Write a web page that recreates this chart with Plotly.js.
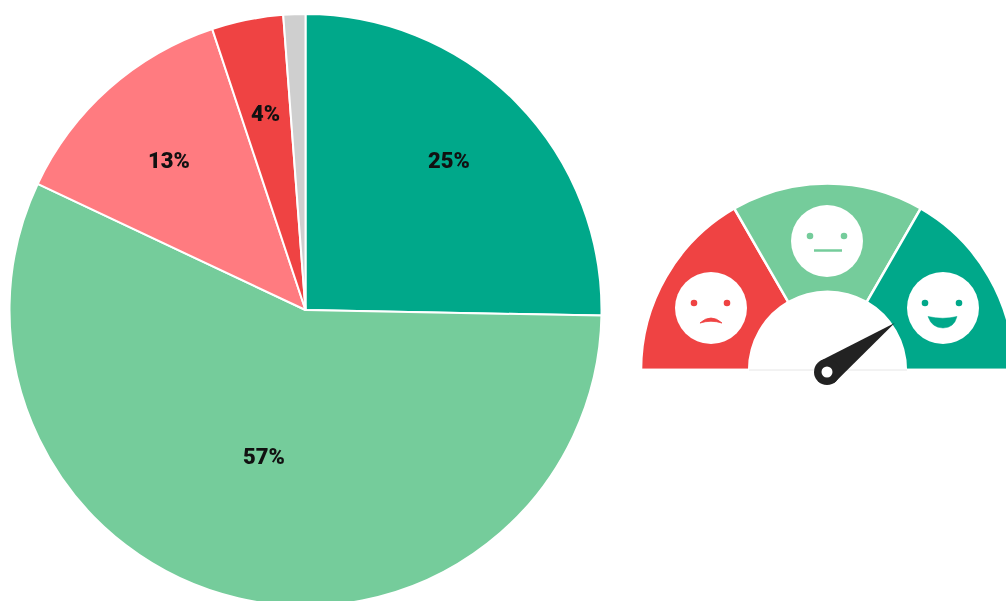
<!DOCTYPE html>
<html><head><meta charset="utf-8">
<script src="https://cdn.plot.ly/plotly-3.0.1.min.js"></script>
<style>html,body{margin:0;padding:0;background:#fff;overflow:hidden}#wrap{width:1006px;height:601px;overflow:hidden;filter:blur(0.6px)}</style>
</head><body><div id="wrap"><div id="chart"></div></div>
<script>
const sliceNames = ['Very positive','Positive','Negative','Very negative','Unknown'];
const sliceValues = [25.3, 56.7, 12.9, 3.9, 1.2];
const sliceLabels = ['25%','57%','13%','4%',''];
const sliceColors = ['#00A88A','#75CC9B','#FF7B80','#EF4343','#CFCFCF'];
const gaugeNames = ['Bad','Neutral','Good','hidden'];
const gaugeValues = [1,1,1,3];
const gaugeColors = ['#EF4343','#75CC9B','#00A88A','rgba(0,0,0,0)'];
const needleAngleDeg = 55;

const W = 1020, H = 620;
const px = x => x / W, py = y => 1 - y / H;
const P = (x, y) => px(x).toFixed(5) + ',' + py(y).toFixed(5);
const circle = (cx, cy, r, color) => ({type:'circle', xref:'paper', yref:'paper', layer:'above',
  x0:px(cx-r), x1:px(cx+r), y0:py(cy+r), y1:py(cy-r), fillcolor:color, line:{width:0}});
const path = (d, fill, line, lw) => ({type:'path', xref:'paper', yref:'paper', layer:'above', path:d,
  fillcolor:fill, line:{color:line, width:lw}});

const gx = 827.5, gy = 370;
const a = needleAngleDeg * Math.PI / 180;
const tx = gx + 82 * Math.sin(a), ty = gy - 82 * Math.cos(a);
const hx = 827, hy = 372, hr = 13;
const nx = Math.cos(a), ny = Math.sin(a);

const shapes = [
  {type:'line', xref:'paper', yref:'paper', layer:'above', x0:px(749), x1:px(907), y0:py(370), y1:py(370), line:{color:'#E6E6E6', width:1}},
  circle(711,308,36,'#fff'), circle(827,241,36,'#fff'), circle(943,308,36,'#fff'),
  circle(694,303,3.3,'#EF4343'), circle(727,303,3.3,'#EF4343'),
  circle(810,236,3.3,'#75CC9B'), circle(844,236,3.3,'#75CC9B'),
  circle(925,303,3.3,'#00A88A'), circle(959,303,3.3,'#00A88A'),
  path('M'+P(700,323)+' Q'+P(711,313)+' '+P(722,323)+' Q'+P(711,319.5)+' '+P(700,323)+' Z', '#EF4343', '#EF4343', 0.8),
  path('M'+P(814,250.5)+' L'+P(842,250.5), 'rgba(0,0,0,0)', '#75CC9B', 2.5),
  path('M'+P(928,316.5)+' Q'+P(943,320)+' '+P(957,316.5)+' Q'+P(954,328)+' '+P(943,328)+' Q'+P(932,328)+' '+P(928,316.5)+' Z', '#00A88A', '#00A88A', 0.5),
  path('M'+P(hx-hr*nx,hy-hr*ny)+' L'+P(tx,ty)+' L'+P(hx+hr*nx,hy+hr*ny)+' Z', '#222', '#222', 0),
  circle(hx,hy,hr,'#222'),
  circle(hx,hy,5.5,'#fff')
];

const labelPixels = [[449,160],[264,456],[169,160],[265,113]];
const annotations = labelPixels.map((p,i) => ({xref:'paper', yref:'paper', x:px(p[0]), y:py(p[1]),
  text:sliceLabels[i], showarrow:false, xanchor:'center', yanchor:'middle',
  font:{family:'Roboto', size:22, color:'#111', weight:900}}));

const data = [
  {type:'pie', labels:sliceNames, values:sliceValues, textinfo:'none', sort:false,
   direction:'clockwise', rotation:0, marker:{colors:sliceColors, line:{color:'#fff', width:2}},
   domain:{x:[px(9.5),px(601.5)], y:[py(606),py(14)]}, showlegend:false, hoverinfo:'label+percent'},
  {type:'pie', labels:gaugeNames, values:gaugeValues, textinfo:'none', sort:false, hole:0.42,
   direction:'clockwise', rotation:-90, marker:{colors:gaugeColors, line:{color:'#fff', width:2.5}},
   domain:{x:[px(641),px(1014)], y:[py(556.5),py(183.5)]}, showlegend:false, hoverinfo:'skip'}
];
Plotly.newPlot('chart', data, {width:W, height:H, margin:{l:0,r:0,t:0,b:0,pad:0}, paper_bgcolor:'#fff', showlegend:false, shapes, annotations},
  {displayModeBar:false, responsive:false});
</script></body></html>
